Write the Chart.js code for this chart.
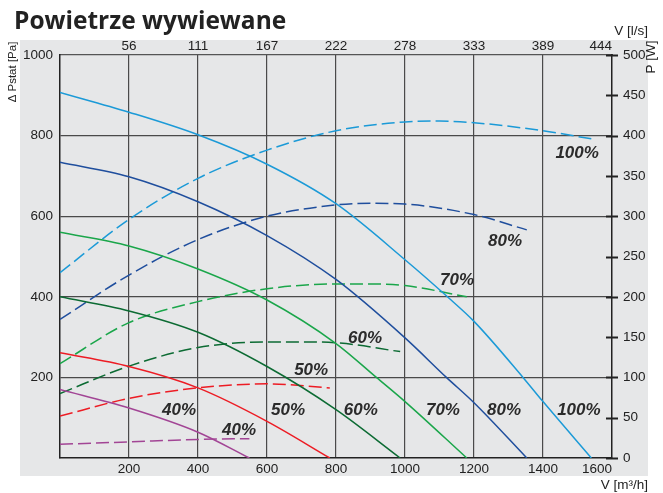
<!DOCTYPE html>
<html>
<head>
<meta charset="utf-8">
<script src="https://cdn.jsdelivr.net/npm/chart.js@4"></script>
<style>
  body { margin: 0; background: #fff; }
  canvas { display: block; }
</style>
</head>
<body>
<canvas id="chart" width="663" height="493"></canvas>
<script>
// Charakterystyki wentylatora wywiewnego: przepływ [m3/h] -> spręż [Pa] (linie ciągłe) i moc [W] (linie przerywane)

const speeds = ['100%', '80%', '70%', '60%', '50%', '40%'];
const colors = ['#1b9ad7', '#1f4e9d', '#1aa64a', '#0c6b33', '#ed1c24', '#a24595'];

// spręż statyczny
const flowP100 = [0, 200, 400, 600, 800, 1000, 1123, 1200, 1342, 1400, 1540];
const pa100    = [907, 858, 802, 729, 631, 492, 400, 339, 200, 140, 0];
const flowP80  = [0, 200, 400, 600, 800, 1000, 1120, 1200, 1353];
const pa80     = [734, 698, 636, 552, 443, 298, 200, 137, 0];
const flowP70  = [0, 200, 400, 600, 800, 917, 1000, 1179];
const pa70     = [560, 526, 469, 392, 284, 200, 140, 0];
const flowP60  = [0, 200, 400, 600, 800, 986];
const pa60     = [400, 365, 312, 227, 120, 0];
const flowP50  = [0, 200, 400, 600, 782];
const pa50     = [261, 227, 174, 91, 0];
const flowP40  = [0, 200, 400, 549];
const pa40     = [170, 124, 64, 0];

// pobór mocy
const flowW100 = [0, 200, 400, 600, 800, 1000, 1100, 1200, 1400, 1540];
const w100     = [230, 296, 347, 382, 406, 417, 418, 416, 406, 396];
const flowW80  = [0, 200, 400, 600, 800, 900, 1000, 1200, 1353];
const w80      = [172, 227, 271, 300, 314, 316, 315, 302, 283];
const flowW70  = [0, 200, 400, 600, 800, 900, 1000, 1179];
const w70      = [117, 168, 194, 210, 216, 216, 214, 200];
const flowW60  = [0, 200, 400, 600, 700, 800, 986];
const w60      = [80, 114, 137, 144, 144, 143, 132];
const flowW50  = [0, 200, 400, 600, 782];
const w50      = [52, 74, 87, 92, 87];
const flowW40  = [0, 200, 400, 549];
const w40      = [17, 20, 23, 24];

// osie
const flowTicks = [0, 200, 400, 600, 800, 1000, 1200, 1400, 1600];
const lsLabels  = ['', '56', '111', '167', '222', '278', '333', '389', '444'];

// opisy krzywych: [tekst, przepływ, spręż]
const curveNotes = [
  ['100%', 1499, 757], ['80%', 1290, 538], ['70%', 1151, 442], ['60%', 884, 298],
  ['50%', 728, 218], ['40%', 519, 69],
  ['40%', 345, 119], ['50%', 661, 119], ['60%', 872, 119], ['70%', 1110, 119],
  ['80%', 1287, 119], ['100%', 1504, 119]
];

const pressureSets = [[flowP100, pa100], [flowP80, pa80], [flowP70, pa70], [flowP60, pa60], [flowP50, pa50], [flowP40, pa40]];
const powerSets    = [[flowW100, w100], [flowW80, w80], [flowW70, w70], [flowW60, w60], [flowW50, w50], [flowW40, w40]];

function toPoints(xs, ys) {
  return xs.map(function (x, i) { return { x: x, y: ys[i] }; });
}

const datasets = [];
pressureSets.forEach(function (s, i) {
  datasets.push({
    label: 'Pa ' + speeds[i], data: toPoints(s[0], s[1]), yAxisID: 'y',
    borderColor: colors[i], borderWidth: 1.5, pointRadius: 0, cubicInterpolationMode: 'monotone'
  });
});
powerSets.forEach(function (s, i) {
  datasets.push({
    label: 'W ' + speeds[i], data: toPoints(s[0], s[1]), yAxisID: 'yW',
    borderColor: colors[i], borderWidth: 1.5, borderDash: [13, 5], pointRadius: 0, cubicInterpolationMode: 'monotone'
  });
});

const tickFont = { family: "'Liberation Sans', Arial, sans-serif", size: 13.5 };
const gridColor = '#4a4a4a';

function edgeClear(ctx) {
  const t = ctx.tick;
  if (!t) return gridColor;
  return (t.value === ctx.scale.min || t.value === ctx.scale.max) ? 'rgba(0,0,0,0)' : gridColor;
}

const decor = {
  id: 'decor',
  beforeDraw: function (chart) {
    const c = chart.ctx;
    c.save();
    c.fillStyle = '#fff';
    c.fillRect(0, 0, chart.width, chart.height);
    c.fillStyle = '#e6e7e8';
    c.fillRect(20, 40, 628, 436);
    c.restore();
  },
  afterDraw: function (chart) {
    const c = chart.ctx;
    const xs = chart.scales.x, ys = chart.scales.y, ws = chart.scales.yW;
    c.save();

    // tytuł
    c.fillStyle = '#222';
    c.font = "bold 24.5px 'Open Sans', 'Noto Sans', sans-serif";
    c.textAlign = 'left';
    c.textBaseline = 'alphabetic';
    c.fillText('Powietrze wywiewane', 14, 29);

    // kreski podziałki na prawej osi
    c.strokeStyle = '#222';
    c.lineWidth = 2;
    ws.ticks.forEach(function (t) {
      const py = Math.round(ws.getPixelForValue(t.value)) + 0.5;
      c.beginPath();
      c.moveTo(xs.right - 6, py);
      c.lineTo(xs.right + 6, py);
      c.stroke();
    });

    // opisy osi
    c.fillStyle = '#222';
    c.font = "13.5px 'Liberation Sans', sans-serif";
    c.textBaseline = 'middle';
    c.textAlign = 'center';
    c.fillText('0', xs.left - 10, xs.bottom + 10);
    c.textAlign = 'right';
    c.fillText('V [l/s]', 648, 31);
    c.fillText('V [m\u00b3/h]', 648, 485);

    c.save();
    c.translate(651, 57);
    c.rotate(-Math.PI / 2);
    c.textAlign = 'center';
    c.fillText('P [W]', 0, 0);
    c.restore();

    c.save();
    c.translate(13, 72);
    c.rotate(-Math.PI / 2);
    c.textAlign = 'center';
    c.font = "11.5px 'Liberation Sans', sans-serif";
    c.fillText('\u0394 Pstat [Pa]', 0, 0);
    c.restore();

    // procenty przy krzywych
    c.fillStyle = '#2b2b2b';
    c.font = "italic bold 17px 'Liberation Sans', Arial, sans-serif";
    c.textAlign = 'center';
    c.textBaseline = 'middle';
    curveNotes.forEach(function (n) {
      c.fillText(n[0], xs.getPixelForValue(n[1]), ys.getPixelForValue(n[2]));
    });

    c.restore();
  }
};

new Chart(document.getElementById('chart'), {
  type: 'line',
  data: { datasets: datasets },
  options: {
    responsive: false,
    animation: false,
    layout: { padding: 0 },
    plugins: { legend: { display: false }, tooltip: { enabled: false } },
    scales: {
      x: {
        type: 'linear', position: 'bottom', min: 0, max: 1600,
        afterBuildTicks: function (s) { s.ticks = flowTicks.map(function (v) { return { value: v }; }); },
        afterFit: function (s) { s.height = 35; },
        ticks: {
          align: 'inner', padding: 3, color: '#222', font: tickFont,
          callback: function (v) { return v === 0 ? '' : String(v); }
        },
        grid: { color: edgeClear, lineWidth: 1.2, drawTicks: false },
        border: { color: '#222', width: 1.5 }
      },
      x2: {
        type: 'linear', position: 'top', min: 0, max: 1600,
        afterBuildTicks: function (s) { s.ticks = flowTicks.map(function (v) { return { value: v }; }); },
        afterFit: function (s) { s.height = 55; },
        ticks: {
          align: 'inner', padding: 1, color: '#222', font: tickFont,
          callback: function (v, i) { return lsLabels[i]; }
        },
        grid: { drawOnChartArea: false, drawTicks: false },
        border: { color: '#555', width: 1.2 }
      },
      y: {
        position: 'left', min: 0, max: 1000,
        afterFit: function (s) { s.width = 60; },
        ticks: {
          stepSize: 200, padding: 7, color: '#222', font: tickFont,
          callback: function (v) { return v === 0 ? '' : String(v); }
        },
        grid: { color: edgeClear, lineWidth: 1.2, drawTicks: false },
        border: { color: '#222', width: 1.5 }
      },
      yW: {
        position: 'right', min: 0, max: 500,
        afterFit: function (s) { s.width = 51; },
        ticks: { stepSize: 50, padding: 11, color: '#222', font: tickFont },
        grid: { drawOnChartArea: false, drawTicks: false },
        border: { color: '#222', width: 1.5 }
      }
    }
  },
  plugins: [decor]
});
</script>
</body>
</html>
